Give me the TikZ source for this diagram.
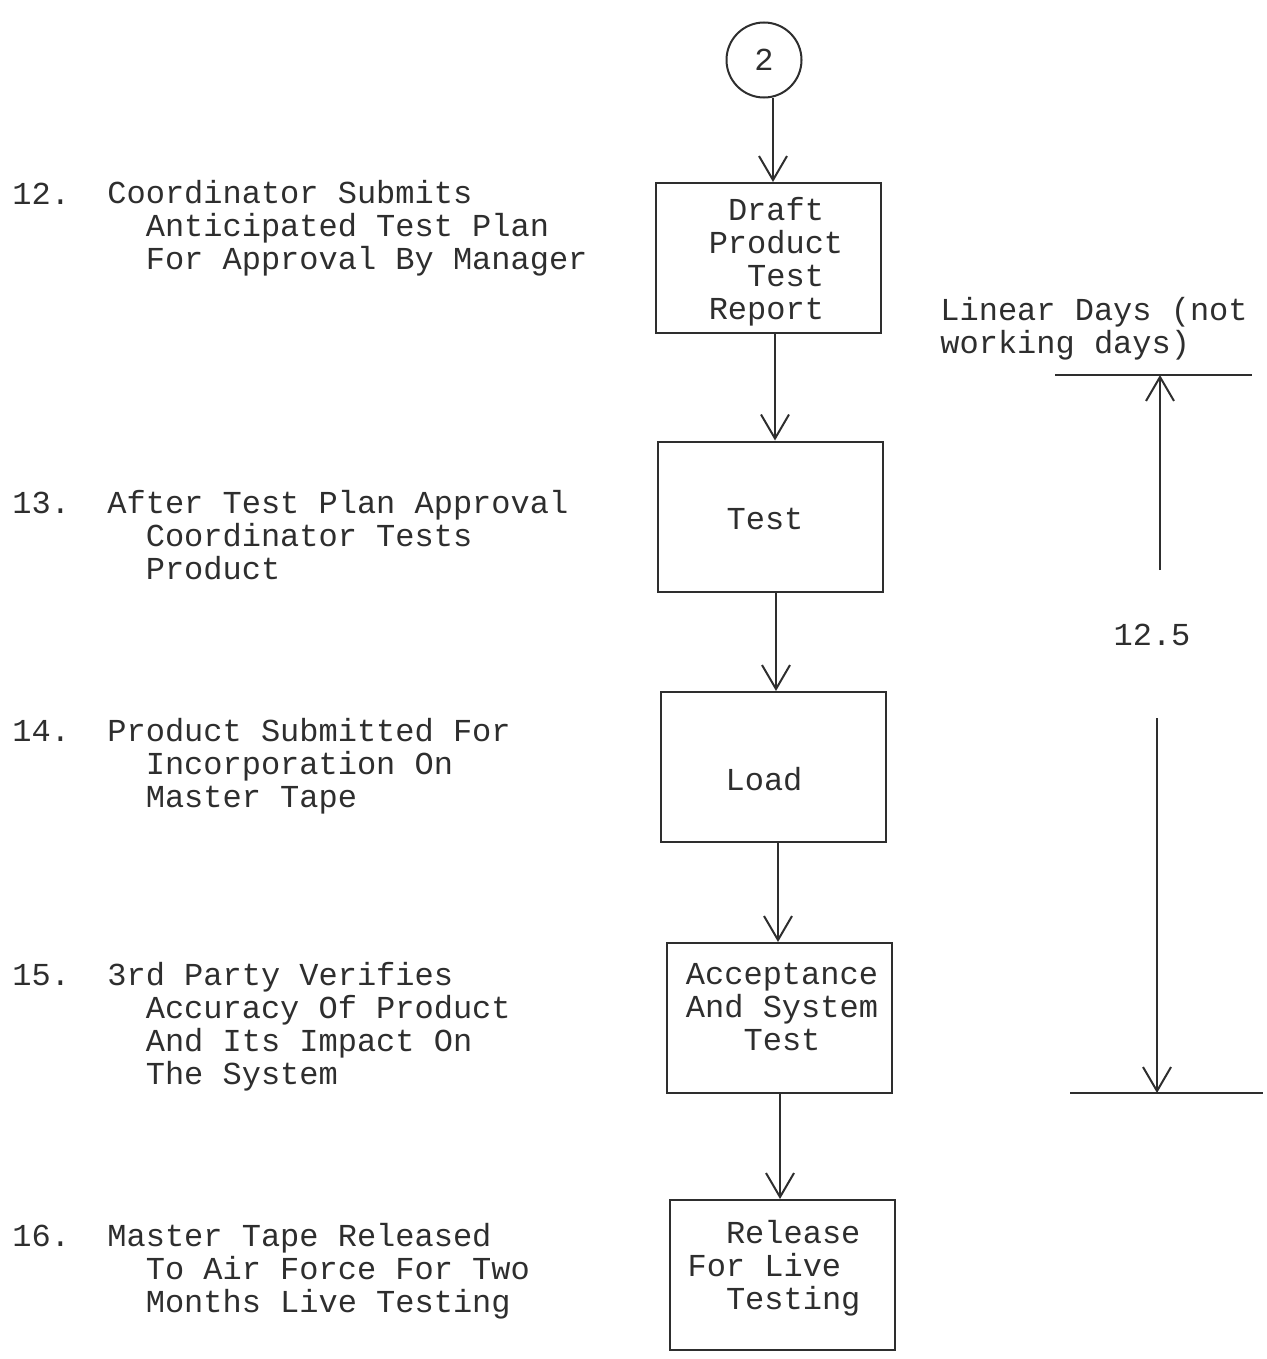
\documentclass[tikz,border=0pt]{standalone}
\usepackage{fontspec}
\setmonofont{Liberation Mono}
\usetikzlibrary{arrows.meta, calc, positioning}

\definecolor{ink}{HTML}{2E2E2E}

\tikzset{
  stepbox/.style={draw=ink, line width=1pt, minimum width=112.5pt, minimum height=75pt, inner sep=0pt},
  boxtext/.style={align=left, inner sep=0pt},
  flow/.style={draw=ink, line width=1pt, -{Straight Barb[length=12pt,width=14pt]}},
  note/.style={anchor=north west, align=left, inner sep=0pt},
}

\begin{document}
\begin{tikzpicture}[x=0.5pt, y=-0.5pt, text=ink,
    font=\ttfamily\fontsize{16}{16.5}\selectfont]
        \useasboundingbox (0,0) rectangle (1266,1359);

        % Connector circle
        \node[draw=ink, line width=1pt, circle, minimum size=37.5pt, inner sep=0pt] (c2) at (764,60) {2};

        % Steps
        \node[stepbox] (draft) at (768.5,258) {};
        \node[boxtext] (draftT) at (776,262) {~Draft\\Product\\~~Test\\Report};
        \node[stepbox] (test) at (770.5,516.5) {};
        \node[boxtext] (testT) at (765,519) {Test};
        \node[stepbox] (load) at (773.5,767) {};
        \node[boxtext] (loadT) at (764,779) {Load};
        \node[stepbox] (accept) at (779.5,1018) {};
        \node[boxtext] (acceptT) at (782,1007) {Acceptance\\And System\\~~~Test};
        \node[stepbox] (release) at (782,1275) {};
        \node[boxtext] (releaseT) at (774,1268) {~~Release\\For Live\\~~Testing};

        % Flow arrows
        \draw[flow] ([xshift=2.25pt]c2.south -| draft.north) -- ([xshift=2.25pt]draft.north);
        \draw[flow] ([xshift=3.25pt]draft.south) -- ([xshift=3.25pt]draft.south |- test.north);
        \draw[flow] ([xshift=2.75pt]test.south) -- ([xshift=2.75pt]test.south |- load.north);
        \draw[flow] ([xshift=2.25pt]load.south) -- ([xshift=2.25pt]load.south |- accept.north);
        \draw[flow] ([xshift=0.25pt]accept.south) -- ([xshift=0.25pt]accept.south |- release.north);

        % Left descriptions
        \node[note] (n12) at (12,183) {12.};
        \node[note] (t12) at (107,180) {Coordinator Submits\\~~Anticipated Test Plan\\~~For Approval By Manager};
        \node[note] (n13) at (12,492) {13.};
        \node[note] (t13) at (107,490) {After Test Plan Approval\\~~Coordinator Tests\\~~Product};
        \node[note] (n14) at (12,720) {14.};
        \node[note] (t14) at (107,718) {Product Submitted For\\~~Incorporation On\\~~Master Tape};
        \node[note] (n15) at (12,964) {15.};
        \node[note] (t15) at (107,962) {3rd Party Verifies\\~~Accuracy Of Product\\~~And Its Impact On\\~~The System};
        \node[note] (n16) at (12,1225) {16.};
        \node[note] (t16) at (107,1223) {Master Tape Released\\~~To Air Force For Two\\~~Months Live Testing};

        % Time span
        \node[note] (days) at (940,297) {Linear Days (not\\working days)};
        \coordinate (topL) at (1055,375);
        \coordinate (topR) at (1252,375);
        \coordinate (botL) at (1070,1093);
        \coordinate (botR) at (1263,1093);
        \draw[draw=ink, line width=1pt] (topL) -- (topR);
        \draw[draw=ink, line width=1pt] (botL) -- (botR);
        \node (span) at (1152,635) {12.5};
        \coordinate (upStart) at (1160,570);
        \coordinate (downStart) at (1157,718);
        \draw[flow] (upStart) -- (upStart |- topL);
        \draw[flow] (downStart) -- (downStart |- botL);
\end{tikzpicture}
\end{document}
